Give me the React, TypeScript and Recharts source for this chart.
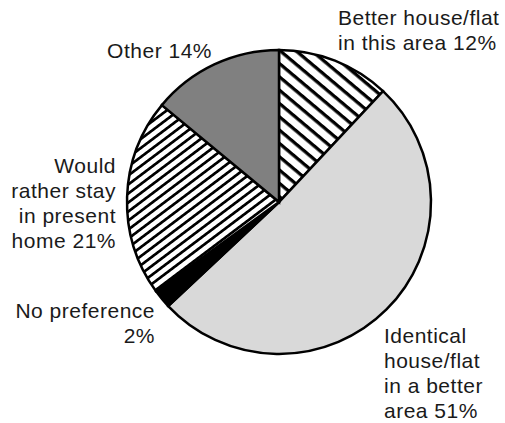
import { Cell, Pie, PieChart } from "recharts";

const categories = [
  "Better house/flat in this area",
  "Identical house/flat in a better area",
  "No preference",
  "Would rather stay in present home",
  "Other",
];
const shares = [12, 51, 2, 21, 14];
const labelLines = [
  ["Better house/flat", "in this area 12%"],
  ["Identical", "house/flat", "in a better", "area 51%"],
  ["No preference", "2%"],
  ["Would", "rather stay", "in present", "home 21%"],
  ["Other 14%"],
];

const fills = ["url(#hatchDown)", "#d9d9d9", "#000000", "url(#hatchUp)", "#808080"];

// where each label block sits: x, first baseline, anchor
const labelPos: [number, number, "start" | "end"][] = [
  [338, 25, "start"],
  [384, 343, "start"],
  [155, 318, "end"],
  [116, 173, "end"],
  [212, 58, "end"],
];

const data = categories.map((name, i) => ({ name, value: shares[i] }));

function renderLabel(props: any) {
  const i = props.index;
  const [x, y, anchor] = labelPos[i];
  return (
    <text
      x={x}
      y={y}
      textAnchor={anchor}
      fill="#1a1a1a"
      fontSize={21}
      letterSpacing={0.5}
      fontFamily="'Liberation Sans', Arial, sans-serif"
    >
      {labelLines[i].map((line, j) => (
        <tspan key={j} x={x} dy={j === 0 ? 0 : 25}>
          {line}
        </tspan>
      ))}
    </text>
  );
}

export default function App() {
  return (
    <div style={{ position: "absolute", left: 0, top: 0, background: "#fff" }}>
      <PieChart width={505} height={423} margin={{ top: 0, right: 0, bottom: 0, left: 0 }}>
        <defs>
          <pattern id="hatchDown" patternUnits="userSpaceOnUse" width="10" height="10.2" patternTransform="rotate(40)">
            <rect width="10" height="10.2" fill="#fff" />
            <rect width="10" height="3.3" fill="#000" />
          </pattern>
          <pattern id="hatchUp" patternUnits="userSpaceOnUse" width="10" height="7.2" patternTransform="rotate(-37)">
            <rect width="10" height="7.2" fill="#fff" />
            <rect width="10" height="2.7" fill="#000" />
          </pattern>
        </defs>
        <Pie
          data={data}
          dataKey="value"
          nameKey="name"
          cx={279}
          cy={202}
          outerRadius={152}
          startAngle={90}
          endAngle={-270}
          stroke="#000"
          strokeWidth={2.5}
          label={renderLabel}
          labelLine={false}
          isAnimationActive={false}
        >
          {data.map((d, i) => (
            <Cell key={d.name} fill={fills[i]} />
          ))}
        </Pie>
      </PieChart>
    </div>
  );
}
